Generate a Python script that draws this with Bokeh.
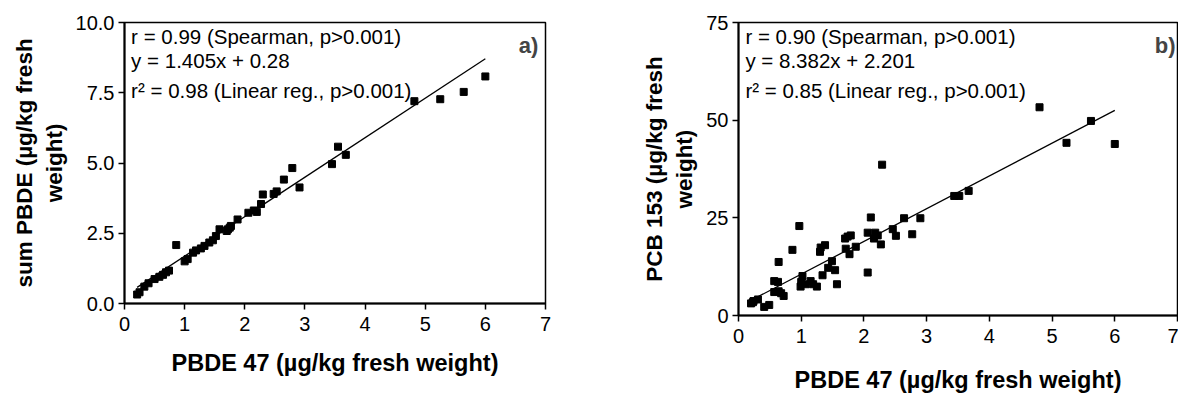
import numpy as np
from bokeh.plotting import figure
from bokeh.layouts import row
from bokeh.models import Label, Range1d, FixedTicker, PrintfTickFormatter
from bokeh.embed import file_html
from bokeh.resources import INLINE

# ---- data ----
pbde47_a = [0.21, 0.25, 0.33, 0.40, 0.50, 0.58, 0.64, 0.69, 0.74, 0.86, 1.00, 1.05,
            1.14, 1.19, 1.27, 1.33, 1.41, 1.47, 1.52, 1.58, 1.70, 1.72, 1.75, 1.77,
            1.88, 2.06, 2.15, 2.20, 2.27, 2.30, 2.48, 2.53, 2.65, 2.79, 2.91, 3.45,
            3.55, 3.68, 4.82, 5.25, 5.64, 6.00]
sum_pbde = [0.32, 0.40, 0.60, 0.72, 0.87, 0.95, 1.02, 1.11, 1.17, 2.08, 1.50, 1.58,
            1.81, 1.89, 1.96, 2.05, 2.17, 2.25, 2.40, 2.64, 2.58, 2.64, 2.70, 2.76,
            2.99, 3.23, 3.31, 3.26, 3.54, 3.88, 3.90, 3.99, 4.41, 4.82, 4.13, 4.96,
            5.58, 5.29, 7.20, 7.27, 7.53, 8.08]

pbde47_b = [0.20, 0.23, 0.24, 0.31, 0.41, 0.49, 0.57, 0.57, 0.63, 0.64, 0.68, 0.72,
            0.64, 0.86, 0.97, 0.99, 1.00, 1.02, 1.07, 1.15, 1.19, 1.25, 1.30, 1.31,
            1.38, 1.34, 1.43, 1.49, 1.54, 1.57, 1.70, 1.74, 1.79, 1.71, 1.77, 1.87,
            2.06, 2.06, 2.11, 2.16, 2.18, 2.22, 2.27, 2.29, 2.46, 2.51, 2.64, 2.77,
            2.90, 3.44, 3.52, 3.67, 4.80, 5.23, 5.62, 6.00]
pcb153 = [3.1, 3.4, 3.7, 4.1, 2.2, 2.7, 8.8, 6.0, 8.6, 6.2, 5.7, 5.0,
          13.7, 16.8, 22.9, 7.4, 8.6, 10.1, 8.0, 8.8, 8.0, 7.4, 16.3, 17.4,
          18.0, 10.3, 12.2, 13.9, 11.6, 8.0, 19.7, 20.2, 20.5, 17.1, 15.7, 17.6,
          11.0, 21.2, 25.1, 19.7, 21.2, 20.5, 18.2, 38.6, 22.1, 20.4, 24.9, 20.8,
          24.9, 30.6, 30.6, 31.9, 53.3, 44.2, 49.8, 43.9]

x_ticks = [0, 1, 2, 3, 4, 5, 6, 7]
y_ticks_a = [0, 2.5, 5, 7.5, 10]
y_ticks_b = [0, 25, 50, 75]

slope_a, icpt_a = 1.405, 0.28
slope_b, icpt_b = 8.382, 2.201

text_a = ["r = 0.99 (Spearman, p>0.001)", "y = 1.405x + 0.28",
          "r\u00b2 = 0.98 (Linear reg., p>0.001)"]
text_b = ["r = 0.90 (Spearman, p>0.001)", "y = 8.382x + 2.201",
          "r\u00b2 = 0.85 (Linear reg., p>0.001)"]
xlabel = "PBDE 47 (\u00b5g/kg fresh weight)"
ylabel_a = "sum PBDE (\u00b5g/kg fresh\nweight)"
ylabel_b = "PCB 153 (\u00b5g/kg fresh\nweight)"

FONT = "Liberation Sans"


def make_panel(width, height, bl, br, bt, bb, ymax, yticks, xs, ys, slope, icpt,
               lines, text_y, tag, tag_xy, ylab, yfmt, x_standoff, y_standoff):
    p = figure(width=width, height=height, output_backend="svg", toolbar_location=None,
               x_range=Range1d(0, 7), y_range=Range1d(0, ymax),
               min_border_left=bl, min_border_right=br, min_border_top=bt,
               min_border_bottom=bb)
    p.xgrid.visible = False
    p.ygrid.visible = False
    p.outline_line_color = "black"
    p.outline_line_width = 1.5
    p.outline_line_alpha = 1.0
    p.background_fill_color = "white"
    p.border_fill_color = "white"

    for ax in (p.xaxis[0], p.yaxis[0]):
        ax.axis_line_color = "black"
        ax.axis_line_width = 2
        ax.major_tick_line_color = "black"
        ax.major_tick_line_width = 1.5
        ax.major_tick_in = 0
        ax.major_tick_out = 6
        ax.minor_tick_line_color = None
        ax.major_label_text_font = FONT
        ax.major_label_text_font_size = "20px"
        ax.major_label_text_color = "black"
        ax.axis_label_text_font = FONT
        ax.axis_label_text_font_style = "bold"
        ax.axis_label_text_color = "black"

    p.xaxis.axis_label_text_font_size = "23.5px"
    p.yaxis.axis_label_text_font_size = "22.5px"
    p.xaxis.major_label_standoff = 7
    p.yaxis.major_label_standoff = 4
    p.xaxis.ticker = FixedTicker(ticks=x_ticks)
    p.yaxis.ticker = FixedTicker(ticks=yticks)
    p.yaxis.formatter = PrintfTickFormatter(format=yfmt)

    p.xaxis.axis_label = xlabel
    p.xaxis.axis_label_standoff = x_standoff
    p.yaxis.axis_label = ylab
    p.yaxis.axis_label_standoff = y_standoff

    # regression line over the observed x span
    x0, x1 = min(xs), max(xs)
    p.line([x0, x1], [slope * x0 + icpt, slope * x1 + icpt], line_color="black",
           line_width=1.3)
    p.scatter(xs, ys, marker="square", size=7, fill_color="black", line_color="black")

    for t, ty in zip(lines, text_y):
        p.add_layout(Label(x=0.11, y=ty, text=t, text_font=FONT, text_font_size="20.5px",
                           text_color="black", text_baseline="alphabetic"))
    p.add_layout(Label(x=tag_xy[0], y=tag_xy[1], text=tag, text_font=FONT,
                       text_font_size="22px", text_font_style="bold",
                       text_align="right", text_baseline="alphabetic"))
    return p


# left panel: frame 124..545 x 22..303 ; right panel: frame 738..1177 x 22..315
pa = make_panel(590, 386, 124, 45, 22, 83, 10, y_ticks_a, pbde47_a, sum_pbde,
                slope_a, icpt_a, text_a, [9.49, 8.66, 7.57], "a)", (6.88, 9.18),
                ylabel_a, "%.1f", 16, 6)
pb = make_panel(588, 398, 148, 1, 22, 83, 75, y_ticks_b, pbde47_b, pcb153,
                slope_b, icpt_b, text_b, [71.3, 65.3, 57.5], "b)", (6.97, 69.1),
                ylabel_b, "%d", 21, 6)

layout = row(pa, pb)
open("out.html", "w").write(file_html(layout, INLINE))
